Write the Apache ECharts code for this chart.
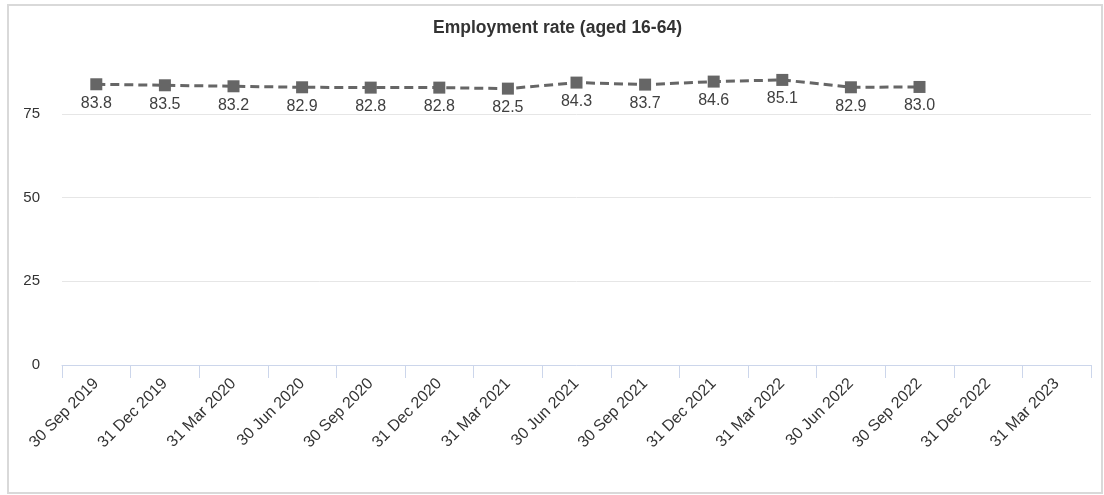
<!DOCTYPE html>
<html>
<head>
<meta charset="utf-8">
<script src="https://cdn.jsdelivr.net/npm/echarts@6/dist/echarts.min.js"></script>
<style>
html,body{margin:0;padding:0;background:#fff;}
#c{width:1104px;height:495px;}
</style>
</head>
<body>
<div id="c"></div>
<script>
var categories = ['30 Sep 2019','31 Dec 2019','31 Mar 2020','30 Jun 2020','30 Sep 2020','31 Dec 2020','31 Mar 2021','30 Jun 2021','30 Sep 2021','31 Dec 2021','31 Mar 2022','30 Jun 2022','30 Sep 2022','31 Dec 2022','31 Mar 2023'];
var employmentRate = [83.8, 83.5, 83.2, 82.9, 82.8, 82.8, 82.5, 84.3, 83.7, 84.6, 85.1, 82.9, 83.0, null, null];
var yTicks = [0, 25, 50, 75];
var chartTitle = 'Employment rate (aged 16-64)';

var chart = echarts.init(document.getElementById('c'), null, {renderer: 'canvas'});
chart.setOption({
  animation: false,
  backgroundColor: '#fff',
  textStyle: {fontFamily: 'Liberation Sans, Arial, sans-serif'},
  graphic: [{
    type: 'rect',
    shape: {x: 8, y: 5, width: 1094, height: 488},
    style: {fill: 'none', stroke: '#d9d9d9', lineWidth: 2},
    silent: true
  }],
  title: {
    text: chartTitle,
    left: 428,
    top: 14,
    textStyle: {fontSize: 17.5, fontWeight: 'bold', color: '#333', fontFamily: 'Liberation Sans, Arial, sans-serif'}
  },
  grid: {left: 62, right: 13, top: 30, bottom: 130, containLabel: false},
  xAxis: {
    type: 'category',
    data: categories,
    boundaryGap: true,
    axisLine: {lineStyle: {color: '#ccd6eb', width: 1}},
    axisTick: {show: true, length: 13, lineStyle: {color: '#ccd6eb'}, alignWithLabel: false},
    axisLabel: {rotate: 45, color: '#333', fontSize: 16, margin: 16, interval: 0, fontFamily: 'Liberation Sans, Arial, sans-serif'},
    splitLine: {show: false}
  },
  yAxis: {
    type: 'value',
    min: 0,
    max: 100,
    interval: 25,
    axisLine: {show: false},
    axisTick: {show: false, customValues: yTicks},
    axisLabel: {customValues: yTicks, color: '#333', fontSize: 15, margin: 22, fontFamily: 'Liberation Sans, Arial, sans-serif'},
    splitLine: {show: true, lineStyle: {color: '#e6e6e6', width: 1}}
  },
  series: [{
    type: 'line',
    data: employmentRate,
    connectNulls: false,
    symbol: 'rect',
    symbolSize: 12,
    itemStyle: {color: '#666666'},
    lineStyle: {color: '#666666', width: 3, type: [9, 5]},
    label: {
      show: true,
      position: 'bottom',
      distance: 5,
      color: '#404040',
      fontSize: 16,
      fontFamily: 'Liberation Sans, Arial, sans-serif',
      formatter: function (p) { return p.value == null ? '' : p.value.toFixed(1); }
    }
  }]
});
</script>
</body>
</html>
